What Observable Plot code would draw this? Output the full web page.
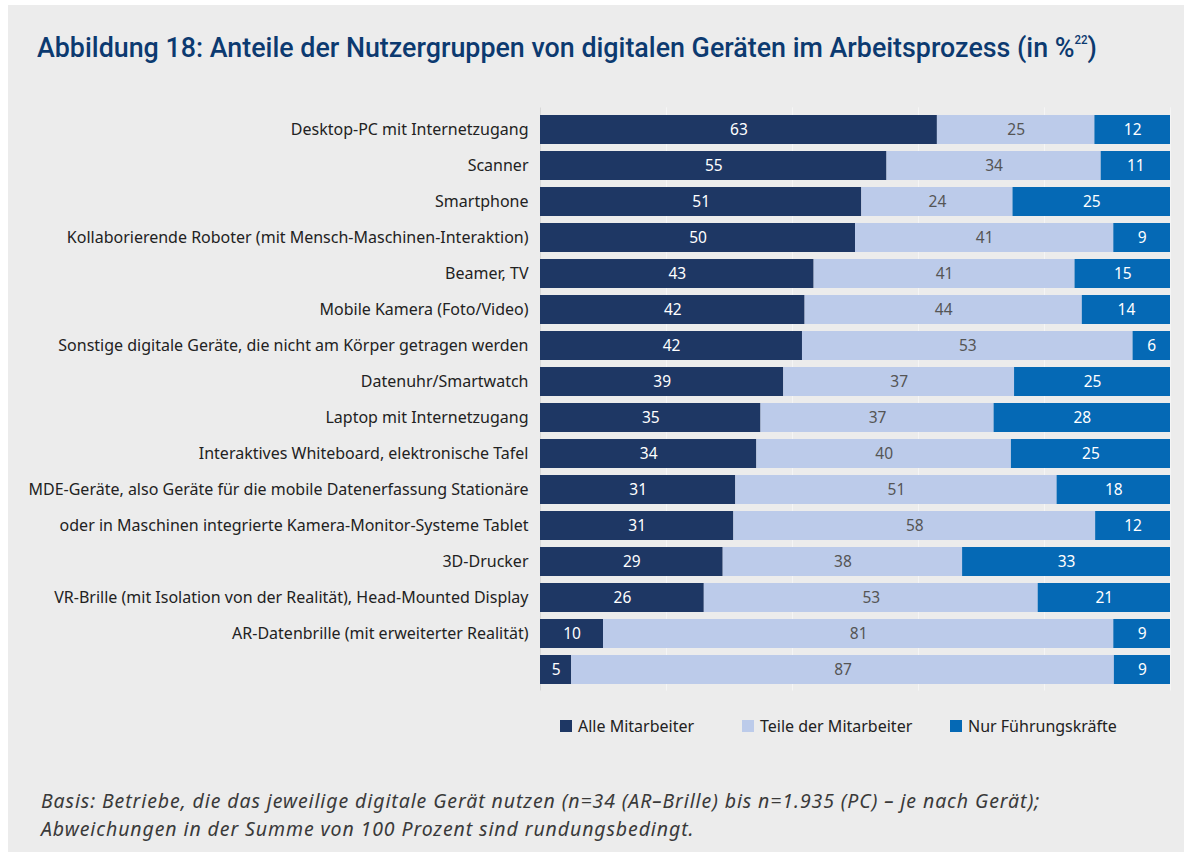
<!DOCTYPE html>
<html>
<head>
<meta charset="utf-8">
<script src="https://cdn.jsdelivr.net/npm/d3@7"></script>
<script src="https://cdn.jsdelivr.net/npm/@observablehq/plot@0.6"></script>
<style>
  html, body { margin: 0; padding: 0; background: #fff; }
  #panel { position: absolute; left: 8px; top: 5px; width: 1176px; height: 847px; background: #ececec; overflow: hidden; }
  #title { position: absolute; left: 29px; top: 26px; font-family: Roboto, sans-serif; font-weight: 500; font-size: 28px; color: #0c3a70; white-space: nowrap; transform-origin: 0 0; }
  #title sup { font-size: 12px; vertical-align: 13px; }
  #chart { position: absolute; left: -8px; top: 95px; }
  #legend { position: absolute; top: 710px; left: 0; width: 1176px; height: 20px; font-family: "Noto Sans", sans-serif; font-size: 16px; color: #222; }
  #legend .item { position: absolute; top: 0; display: flex; align-items: center; white-space: nowrap; }
  #legend .sw { width: 12px; height: 12px; margin-right: 6px; }
  #caption { position: absolute; left: 33px; top: 782px; font-family: "Noto Sans", sans-serif; font-style: italic; font-size: 19.5px; letter-spacing: 0.9px; line-height: 28px; color: #3a3a3a; white-space: nowrap; }
</style>
</head>
<body>
<div id="panel">
  <div id="title">Abbildung 18: Anteile der Nutzergruppen von digitalen Geräten im Arbeitsprozess (in %<sup>22</sup>)</div>
  <div id="chart"></div>
  <div id="legend"></div>
  <div id="caption">Basis: Betriebe, die das jeweilige digitale Gerät nutzen (n=34 (AR–Brille) bis n=1.935 (PC) – je nach Gerät);<br>Abweichungen in der Summe von 100 Prozent sind rundungsbedingt.</div>
</div>
<script>
const labels = [
  "Desktop-PC mit Internetzugang",
  "Scanner",
  "Smartphone",
  "Kollaborierende Roboter (mit Mensch-Maschinen-Interaktion)",
  "Beamer, TV",
  "Mobile Kamera (Foto/Video)",
  "Sonstige digitale Geräte, die nicht am Körper getragen werden",
  "Datenuhr/Smartwatch",
  "Laptop mit Internetzugang",
  "Interaktives Whiteboard, elektronische Tafel",
  "MDE-Geräte, also Geräte für die mobile Datenerfassung Stationäre",
  "oder in Maschinen integrierte Kamera-Monitor-Systeme Tablet",
  "3D-Drucker",
  "VR-Brille (mit Isolation von der Realität), Head-Mounted Display",
  "AR-Datenbrille (mit erweiterter Realität)",
  ""
];
const alle  = [63, 55, 51, 50, 43, 42, 42, 39, 35, 34, 31, 31, 29, 26, 10, 5];
const teile = [25, 34, 24, 41, 41, 44, 53, 37, 37, 40, 51, 58, 38, 53, 81, 87];
const nur   = [12, 11, 25, 9, 15, 14, 6, 25, 28, 25, 18, 12, 33, 21, 9, 9];
const groups = ["Alle Mitarbeiter", "Teile der Mitarbeiter", "Nur Führungskräfte"];
const colors = ["#1e3764", "#bccbea", "#0569b5"];
const textColors = ["#ffffff", "#555555", "#ffffff"];
const legendLeft = [552, 734, 942];
const gridTicks = [0, 0.2, 0.4, 0.6, 0.8, 1];

const series = [alle, teile, nur];
const data = [];
labels.forEach((l, i) => {
  series.forEach((s, g) => data.push({row: i, group: groups[g], value: s[i], tc: textColors[g]}));
});

const stack = {x: "value", y: "row", z: "group", offset: "normalize", order: groups};

const plot = Plot.plot({
  width: 1184,
  height: 600,
  marginTop: 7.4,
  marginBottom: 9.4,
  marginLeft: 540,
  marginRight: 14,
  style: {background: "transparent", fontFamily: "Noto Sans, sans-serif", fontSize: "16px"},
  x: {domain: [0, 1], axis: null},
  y: {domain: d3.range(labels.length), padding: 0.2, tickSize: 0, tickPadding: 12, tickFormat: i => labels[i], label: null},
  color: {domain: groups, range: colors},
  marks: [
    Plot.ruleX(gridTicks, {stroke: "#f5f5f5", strokeWidth: 1}),
    Plot.ruleX([0], {stroke: "#d8d8d8"}),
    Plot.barX(data, Plot.stackX({...stack, fill: "group"})),
    Plot.text(data, Plot.stackX({...stack, text: d => String(d.value), fill: "tc", fontSize: 15.5}))
  ]
});
plot.querySelectorAll("g[aria-label='y-axis tick label']").forEach(e => e.setAttribute("fill", "#222"));
document.getElementById("chart").appendChild(plot);

const legend = document.getElementById("legend");
groups.forEach((g, i) => {
  const it = document.createElement("div");
  it.className = "item";
  it.style.left = legendLeft[i] + "px";
  const sw = document.createElement("div");
  sw.className = "sw";
  sw.style.background = colors[i];
  const tx = document.createElement("span");
  tx.textContent = g;
  it.appendChild(sw); it.appendChild(tx);
  legend.appendChild(it);
});

const title = document.getElementById("title");
const tw = title.getBoundingClientRect().width;
title.style.transform = `scaleX(${1060 / tw})`;
</script>
</body>
</html>
